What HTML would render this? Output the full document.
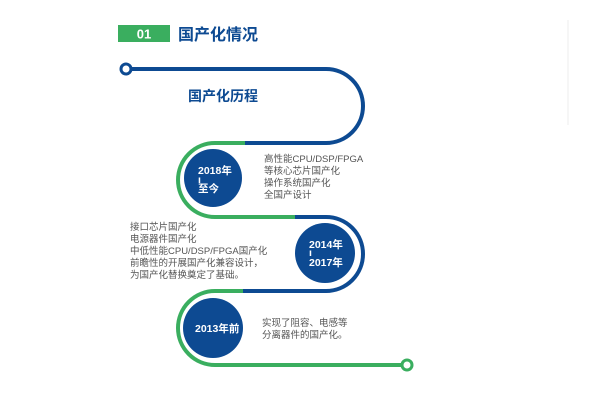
<!DOCTYPE html>
<html><head><meta charset="utf-8"><style>
body{margin:0;background:#fff;}
svg{display:block;font-family:"Liberation Sans","Noto Sans CJK SC",sans-serif;}
.t{font-size:9.5px;fill:#555;}
.w{font-size:10.5px;fill:#fff;font-weight:bold;}
</style></head><body>
<svg width="600" height="400" viewBox="0 0 600 400">
<line x1="568" y1="20" x2="568" y2="125" stroke="#eee" stroke-width="1"/>
<rect x="118" y="25" width="52" height="17" fill="#3aae5f"/>
<text x="144" y="38.5" text-anchor="middle" font-size="13" font-weight="bold" fill="#fff">01</text>
<text x="178" y="40" font-size="16" font-weight="bold" fill="#0d4a92">国产化情况</text>
<text x="188" y="101" font-size="14" font-weight="bold" fill="#0d4a92">国产化历程</text>
<g fill="none" stroke-width="4">
<path d="M131 69 H326 A37 37 0 0 1 326 143 H245" stroke="#0d4a92"/>
<path d="M245 143 H215 A37 37 0 0 0 215 217 H295" stroke="#3aae5f"/>
<path d="M295 217 H326 A37 37 0 0 1 326 291 H243" stroke="#0d4a92"/>
<path d="M243 291 H215 A37 37 0 0 0 215 365 H402" stroke="#3aae5f"/>
</g>
<circle cx="126" cy="69" r="5" fill="#fff" stroke="#0d4a92" stroke-width="3"/>
<circle cx="407" cy="365" r="5" fill="#fff" stroke="#3aae5f" stroke-width="3"/>
<circle cx="213" cy="178" r="29" fill="#0d4a92"/>
<circle cx="325" cy="253" r="30" fill="#0d4a92"/>
<circle cx="213" cy="328" r="30" fill="#0d4a92"/>
<text class="w" x="198" y="174">2018年</text>
<text class="w" x="198" y="183" font-size="8">ı</text>
<text class="w" x="198" y="192">至今</text>
<text class="w" x="309" y="248">2014年</text>
<text class="w" x="309" y="256" font-size="8">ı</text>
<text class="w" x="309" y="266">2017年</text>
<text class="w" x="195" y="332">2013年前</text>
<text class="t" x="264" y="162">高性能CPU/DSP/FPGA</text>
<text class="t" x="264" y="174">等核心芯片国产化</text>
<text class="t" x="264" y="186">操作系统国产化</text>
<text class="t" x="264" y="198">全国产设计</text>
<text class="t" x="130" y="230">接口芯片国产化</text>
<text class="t" x="130" y="242">电源器件国产化</text>
<text class="t" x="130" y="254">中低性能CPU/DSP/FPGA国产化</text>
<text class="t" x="130" y="266">前瞻性的开展国产化兼容设计，</text>
<text class="t" x="130" y="278">为国产化替换奠定了基础。</text>
<text class="t" x="262" y="326">实现了阻容、电感等</text>
<text class="t" x="262" y="338">分离器件的国产化。</text>
</svg>
</body></html>
